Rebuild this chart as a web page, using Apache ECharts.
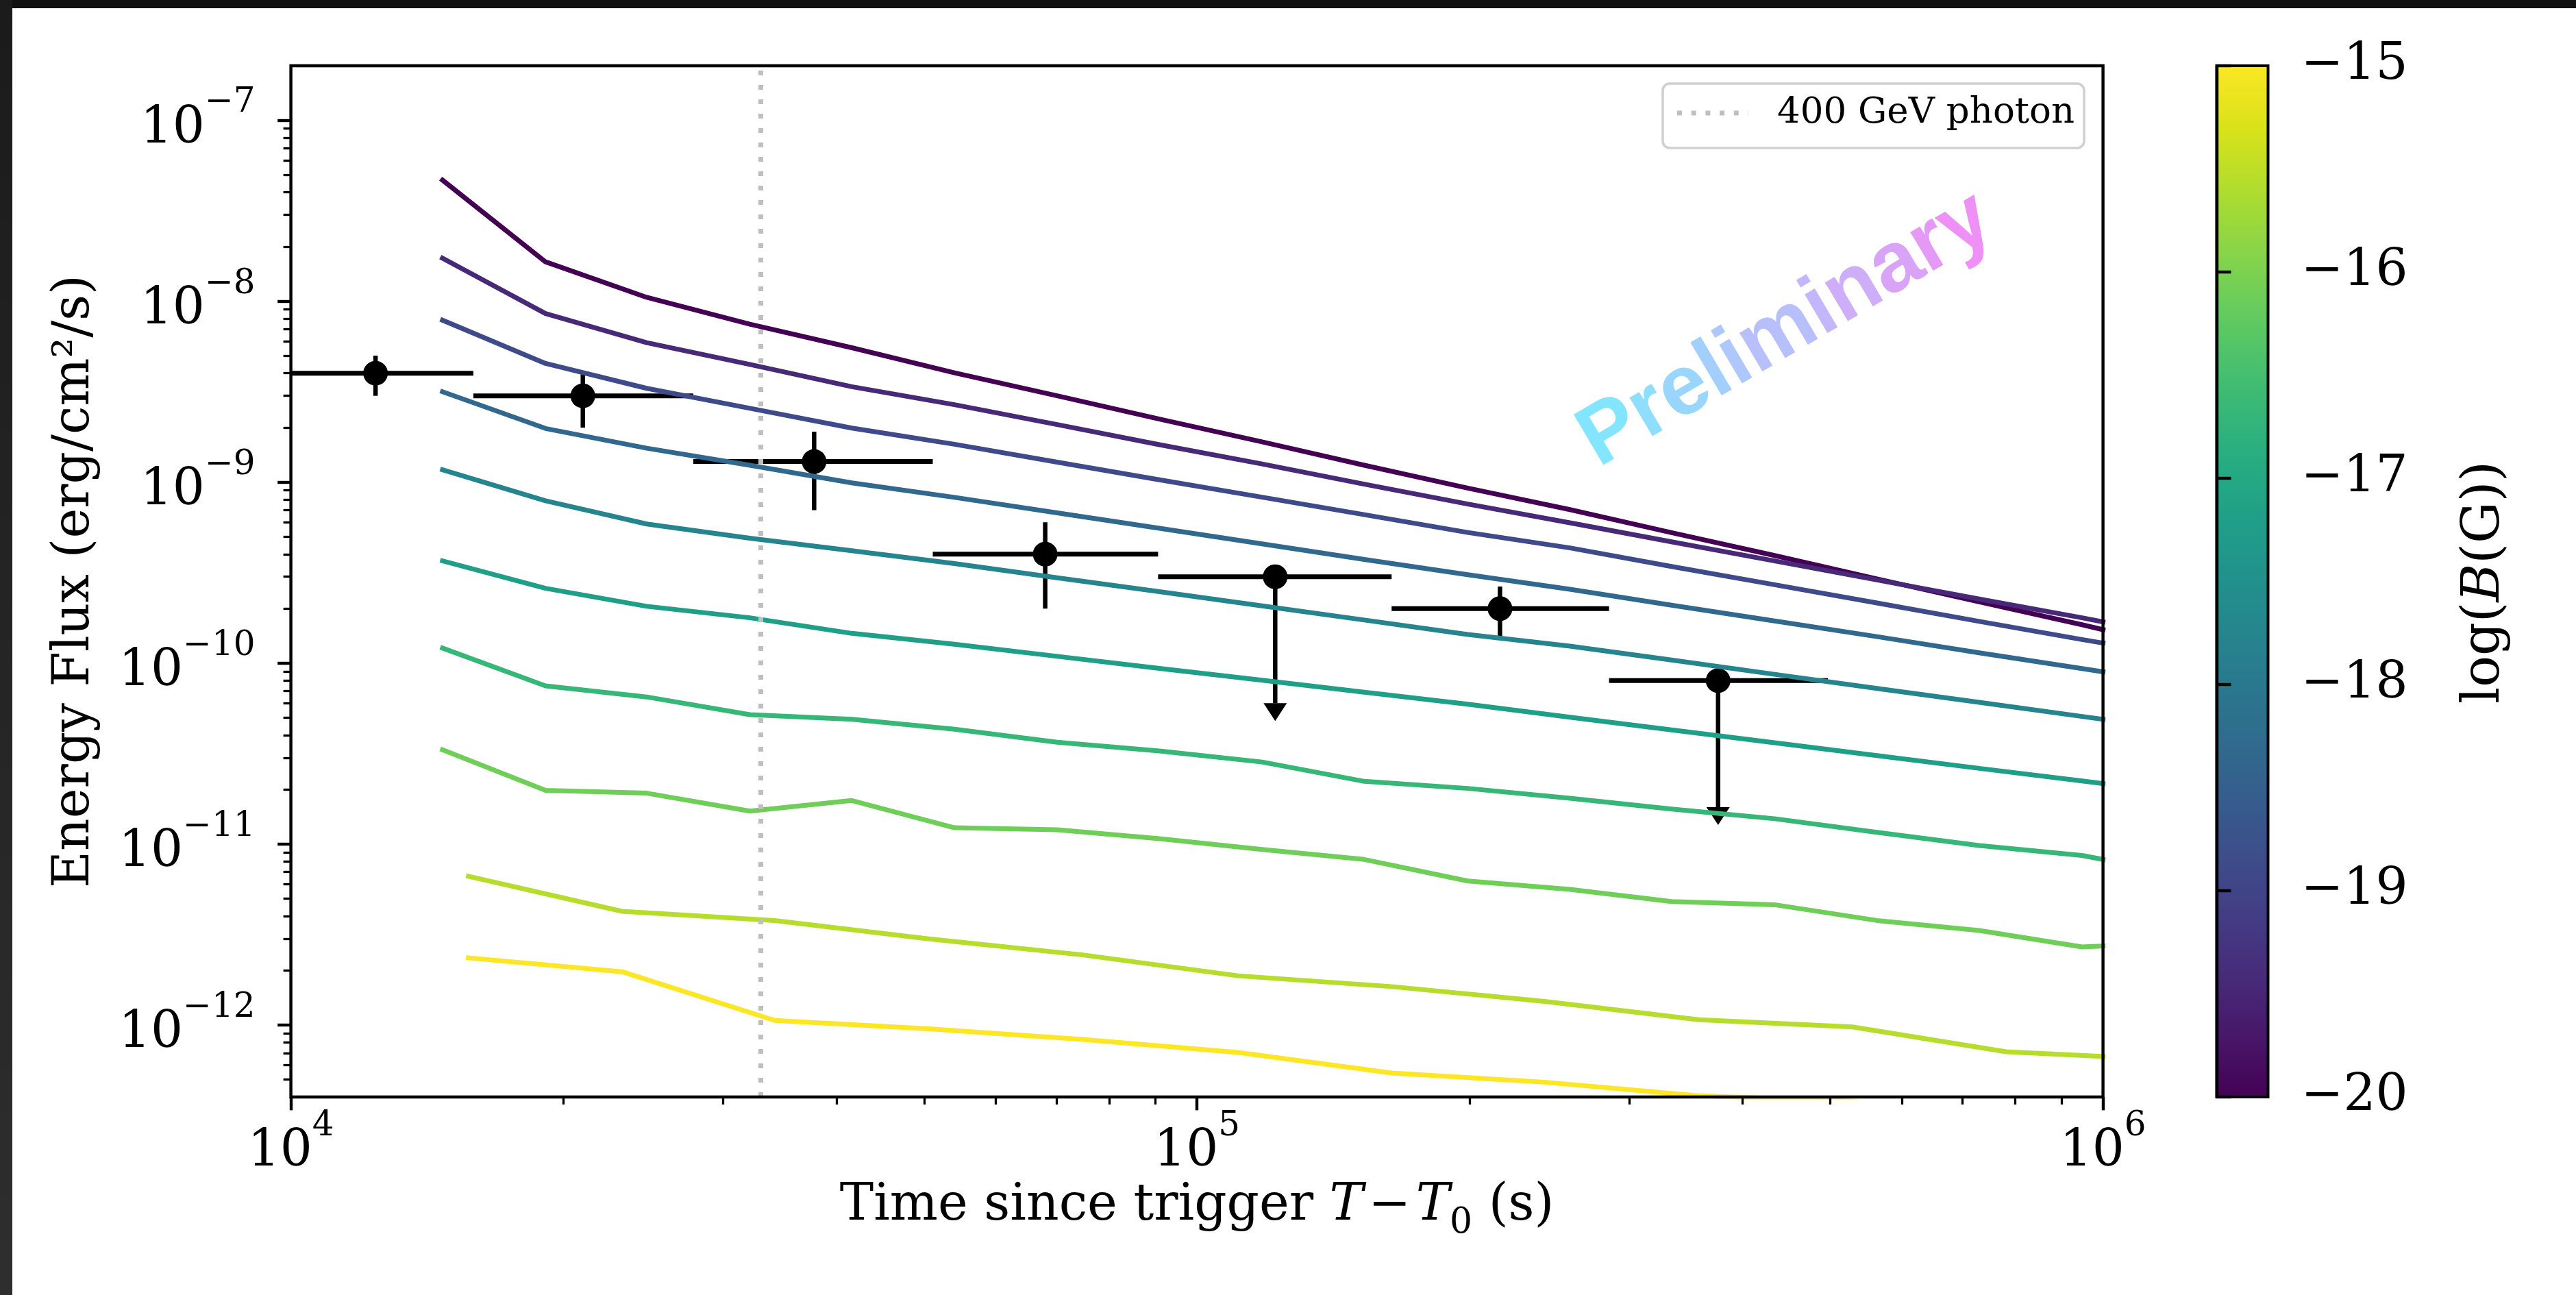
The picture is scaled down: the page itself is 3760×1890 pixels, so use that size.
<!DOCTYPE html>
<html>
<head>
<meta charset="utf-8">
<script src="https://cdn.jsdelivr.net/npm/echarts@6/dist/echarts.min.js"></script>
<style>
  html, body { margin: 0; padding: 0; background: #fff; }
  #chart { position: absolute; left: 0; top: 0; width: 3760px; height: 1890px; }
  .edge-top { position: absolute; left: 0; top: 0; width: 3760px; height: 12px; background: #111; pointer-events: none; }
  .edge-left { position: absolute; left: 0; top: 0; width: 18px; height: 1890px; background: linear-gradient(#1b1b1b, #2e2e2e); pointer-events: none; }
</style>
</head>
<body>
<div id="chart"></div>
<div class="edge-top"></div>
<div class="edge-left"></div>
<script>
// ---------------------------------------------------------------------------
// Cascade light-curve models for a grid of IGMF strengths, log10(B / G)
// ---------------------------------------------------------------------------
const fieldLogB = [-20, -19.44, -18.89, -18.33, -17.78, -17.22, -16.67, -16.11, -15.56, -15];

// time grids (s) of the model curves
const modelTimesA = [1.47e4, 1.91e4, 2.47e4, 3.21e4, 4.16e4, 5.40e4, 7.01e4, 9.09e4, 1.18e5,
                     1.53e5, 1.99e5, 2.58e5, 3.34e5, 4.34e5, 5.63e5, 7.30e5, 9.48e5, 1.0e6];
const modelTimesB = [1.57e4, 2.32e4, 3.42e4, 5.06e4, 7.48e4, 1.11e5, 1.64e5, 2.42e5, 3.58e5,
                     5.29e5, 7.82e5, 1.0e6];

// energy flux (erg/cm^2/s) of each model
const fluxBm2000 = [4.67e-8, 1.65e-8, 1.05e-8, 7.46e-9, 5.53e-9, 4.02e-9, 3.00e-9, 2.23e-9, 1.67e-9,
                    1.24e-9, 9.27e-10, 7.05e-10, 5.26e-10, 3.93e-10, 2.92e-10, 2.18e-10, 1.63e-10, 1.53e-10];
const fluxBm1944 = [1.73e-8, 8.55e-9, 5.90e-9, 4.47e-9, 3.37e-9, 2.68e-9, 2.08e-9, 1.61e-9, 1.26e-9,
                    9.75e-10, 7.57e-10, 5.96e-10, 4.68e-10, 3.67e-10, 2.88e-10, 2.26e-10, 1.78e-10, 1.69e-10];
const fluxBm1889 = [7.85e-9, 4.53e-9, 3.30e-9, 2.56e-9, 1.99e-9, 1.62e-9, 1.29e-9, 1.03e-9, 8.26e-10,
                    6.61e-10, 5.27e-10, 4.33e-10, 3.42e-10, 2.71e-10, 2.15e-10, 1.70e-10, 1.35e-10, 1.29e-10];
const fluxBm1833 = [3.16e-9, 1.98e-9, 1.54e-9, 1.24e-9, 9.91e-10, 8.24e-10, 6.76e-10, 5.56e-10, 4.56e-10,
                    3.74e-10, 3.08e-10, 2.56e-10, 2.09e-10, 1.71e-10, 1.40e-10, 1.14e-10, 9.33e-11, 8.95e-11];
const fluxBm1778 = [1.17e-9, 7.89e-10, 5.87e-10, 4.90e-10, 4.18e-10, 3.55e-10, 2.96e-10, 2.48e-10, 2.07e-10,
                    1.73e-10, 1.44e-10, 1.24e-10, 1.04e-10, 8.67e-11, 7.24e-11, 6.07e-11, 5.07e-11, 4.89e-11];
const fluxBm1722 = [3.67e-10, 2.59e-10, 2.06e-10, 1.78e-10, 1.46e-10, 1.27e-10, 1.09e-10, 9.35e-11, 8.04e-11,
                    6.90e-11, 5.93e-11, 5.02e-11, 4.27e-11, 3.63e-11, 3.08e-11, 2.62e-11, 2.23e-11, 2.16e-11];
const fluxBm1667 = [1.21e-10, 7.48e-11, 6.50e-11, 5.19e-11, 4.89e-11, 4.31e-11, 3.65e-11, 3.27e-11, 2.84e-11,
                    2.22e-11, 2.03e-11, 1.79e-11, 1.56e-11, 1.38e-11, 1.16e-11, 9.82e-12, 8.65e-12, 8.22e-12];
const fluxBm1611 = [3.32e-11, 1.98e-11, 1.91e-11, 1.52e-11, 1.74e-11, 1.23e-11, 1.20e-11, 1.07e-11, 9.33e-12,
                    8.22e-12, 6.25e-12, 5.62e-12, 4.81e-12, 4.62e-12, 3.78e-12, 3.33e-12, 2.70e-12, 2.73e-12];
const fluxBm1556 = [6.64e-12, 4.25e-12, 3.78e-12, 2.99e-12, 2.44e-12, 1.87e-12, 1.63e-12, 1.35e-12, 1.07e-12,
                    9.75e-13, 7.11e-13, 6.70e-13];
const fluxBm1500 = [2.35e-12, 1.97e-12, 1.06e-12, 9.53e-13, 8.32e-13, 7.05e-13, 5.43e-13, 4.83e-13, 4.06e-13,
                    3.80e-13, 2.80e-13, 2.70e-13];

// ---------------------------------------------------------------------------
// Measured energy flux (time bins, fluxes, 1-sigma ranges, upper limits)
// ---------------------------------------------------------------------------
const obsTime       = [1.24e4, 2.10e4, 3.78e4, 6.80e4, 1.22e5, 2.16e5, 3.76e5];
const obsTimeLow    = [1.0e4, 1.59e4, 2.78e4, 5.11e4, 9.06e4, 1.64e5, 2.85e5];
const obsTimeHigh   = [1.59e4, 2.78e4, 5.11e4, 9.06e4, 1.64e5, 2.85e5, 4.97e5];
const obsFlux       = [4.0e-9, 3.0e-9, 1.3e-9, 4.0e-10, 3.0e-10, 2.0e-10, 8.0e-11];
const obsFluxLow    = [3.0e-9, 2.0e-9, 7.0e-10, 2.0e-10, 6.0e-11, 1.4e-10, 1.6e-11];
const obsFluxHigh   = [5.0e-9, 4.0e-9, 1.9e-9, 6.0e-10, 3.0e-10, 2.65e-10, 8.0e-11];
const obsUpperLimit = [false, false, false, false, true, false, true];

// arrival time of the 400 GeV photon (s)
const PHOTON_TIME = 3.3e4;

// axes
const X_MIN = 1e4, X_MAX = 1e6;
const Y_MIN = 4e-13, Y_MAX = 2e-7;
const xMajorTicks = [1e4, 1e5, 1e6];
const yMajorTicks = [1e-12, 1e-11, 1e-10, 1e-9, 1e-8, 1e-7];
const colorbarTicks = [-20, -19, -18, -17, -16, -15];
const B_MIN = -20, B_MAX = -15;

// ---------------------------------------------------------------------------
const modelCurves = [
  { logB: fieldLogB[0], t: modelTimesA, f: fluxBm2000 },
  { logB: fieldLogB[1], t: modelTimesA, f: fluxBm1944 },
  { logB: fieldLogB[2], t: modelTimesA, f: fluxBm1889 },
  { logB: fieldLogB[3], t: modelTimesA, f: fluxBm1833 },
  { logB: fieldLogB[4], t: modelTimesA, f: fluxBm1778 },
  { logB: fieldLogB[5], t: modelTimesA, f: fluxBm1722 },
  { logB: fieldLogB[6], t: modelTimesA, f: fluxBm1667 },
  { logB: fieldLogB[7], t: modelTimesA, f: fluxBm1611 },
  { logB: fieldLogB[8], t: modelTimesB, f: fluxBm1556 },
  { logB: fieldLogB[9], t: modelTimesB, f: fluxBm1500 }
];

// viridis colormap stops
const VIRIDIS = ['#440154', '#48186a', '#472d7b', '#424086', '#3b528b', '#33638d', '#2c728e', '#26828e',
                 '#21918c', '#1fa088', '#28ae80', '#3fbc73', '#5ec962', '#84d44b', '#addc30', '#d8e219', '#fde725'];

function hexRgb(h) {
  return [parseInt(h.slice(1, 3), 16), parseInt(h.slice(3, 5), 16), parseInt(h.slice(5, 7), 16)];
}
function mixColor(a, b, t) {
  const ca = hexRgb(a), cb = hexRgb(b);
  const c = ca.map((v, k) => Math.round(v + (cb[k] - v) * t));
  return 'rgb(' + c.join(',') + ')';
}
function rampColor(stops, f) {
  f = Math.min(Math.max(f, 0), 1);
  const n = stops.length - 1;
  const x = f * n;
  const i = Math.min(Math.floor(x), n - 1);
  return mixColor(stops[i], stops[i + 1], x - i);
}
const viridis = f => rampColor(VIRIDIS, f);

const SERIF = 'DejaVu Serif';
const TICK_FONT = 74;

function powerLabel(v) {
  const e = Math.round(Math.log10(v));
  return '{b|10}{s|' + (e < 0 ? '\u2212' : '') + Math.abs(e) + '}';
}
const powerRich = {
  b: { fontFamily: SERIF, fontSize: TICK_FONT, lineHeight: 100, verticalAlign: 'bottom', color: '#000' },
  s: { fontFamily: SERIF, fontSize: 50, lineHeight: 52, verticalAlign: 'top', color: '#000' }
};

function minorTicks(lo, hi) {
  const out = [];
  for (let e = Math.floor(Math.log10(lo)); e <= Math.ceil(Math.log10(hi)); e++) {
    for (let m = 2; m <= 9; m++) {
      const v = m * Math.pow(10, e);
      if (v > lo && v < hi) out.push(v);
    }
  }
  return out;
}

// ---------------------------------------------------------------------------
const GRID = { left: 424.6, top: 96, width: 2645, height: 1505 };
const CBAR = { left: 3235.5, top: 96, width: 75, height: 1505 };

function renderMeasurement(params, api) {
  const t = api.value(0), f = api.value(1);
  const c = api.coord([t, f]);
  const xl = api.coord([api.value(2), f]);
  const xh = api.coord([api.value(3), f]);
  const yl = api.coord([t, api.value(4)]);
  const yh = api.coord([t, api.value(5)]);
  const children = [
    { type: 'line', shape: { x1: xl[0], y1: c[1], x2: xh[0], y2: c[1] }, style: { stroke: '#000', lineWidth: 7 } },
    { type: 'line', shape: { x1: c[0], y1: yh[1], x2: c[0], y2: yl[1] }, style: { stroke: '#000', lineWidth: 6.5 } },
    { type: 'circle', shape: { cx: c[0], cy: c[1], r: 18 }, style: { fill: '#000' } }
  ];
  if (api.value(6) === 1) {
    children.push({
      type: 'polygon',
      shape: { points: [[c[0] - 17, yl[1]], [c[0] + 17, yl[1]], [c[0], yl[1] + 26]] },
      style: { fill: '#000' }
    });
  }
  return { type: 'group', children };
}

function renderColorbar(params, api) {
  const p0 = api.coord([api.value(0), api.value(1)]);
  const p1 = api.coord([api.value(2), api.value(3)]);
  const stops = VIRIDIS.map((c, i) => ({ offset: i / (VIRIDIS.length - 1), color: c }));
  return {
    type: 'rect',
    shape: { x: p0[0], y: p1[1], width: p1[0] - p0[0], height: p0[1] - p1[1] },
    style: { fill: new echarts.graphic.LinearGradient(0, 1, 0, 0, stops), stroke: '#000', lineWidth: 4 }
  };
}

const measurementData = obsTime.map((t, i) => [t, obsFlux[i], obsTimeLow[i], obsTimeHigh[i],
  obsFluxLow[i], obsFluxHigh[i], obsUpperLimit[i] ? 1 : 0]);

const series = [];
series.push({
  type: 'custom', name: 'data', xAxisIndex: 0, yAxisIndex: 0,
  data: measurementData, encode: { x: 0, y: 1 },
  renderItem: renderMeasurement, z: 2, silent: true
});
modelCurves.forEach(m => {
  series.push({
    type: 'line', xAxisIndex: 0, yAxisIndex: 0,
    data: m.t.map((t, i) => [t, m.f[i]]),
    showSymbol: false, symbol: 'none', clip: true, silent: true, z: 3,
    lineStyle: { color: viridis((m.logB - B_MIN) / (B_MAX - B_MIN)), width: 7, join: 'round', cap: 'square' }
  });
});
series.push({
  type: 'line', name: '400 GeV photon', xAxisIndex: 0, yAxisIndex: 0, data: [], z: 4,
  markLine: {
    silent: true, symbol: ['none', 'none'], label: { show: false }, animation: false,
    lineStyle: { color: '#bfbfbf', width: 7, type: [7, 14], cap: 'butt' },
    data: [{ xAxis: PHOTON_TIME }]
  }
});
series.push({
  type: 'custom', xAxisIndex: 2, yAxisIndex: 2,
  data: [[0, B_MIN, 1, B_MAX]], encode: { x: [0, 2], y: [1, 3] },
  renderItem: renderColorbar, silent: true
});

// watermark letters coloured along a cyan-to-pink ramp
const WATERMARK = 'Preliminary';
const WM_STOPS = ['#7fe9ff', '#b8c0fb', '#f48bf5'];
const wmRich = {};
const wmText = WATERMARK.split('').map((ch, i) => {
  wmRich['w' + i] = {
    fill: rampColor(WM_STOPS, (i + 0.5) / WATERMARK.length),
    fontSize: 124, fontWeight: 'bold', fontFamily: 'Liberation Sans'
  };
  return '{w' + i + '|' + ch + '}';
}).join('');

const option = {
  animation: false,
  backgroundColor: '#fff',
  grid: [
    Object.assign({ show: true, borderColor: '#000', borderWidth: 4.4, backgroundColor: 'transparent', z: 10 }, GRID),
    Object.assign({ show: false }, CBAR)
  ],
  xAxis: [
    {
      type: 'log', gridIndex: 0, min: X_MIN, max: X_MAX, position: 'bottom', z: 10,
      axisLine: { show: false },
      axisTick: { show: true, customValues: xMajorTicks, length: 19.4, lineStyle: { color: '#000', width: 4.4 } },
      axisLabel: { show: true, customValues: xMajorTicks, margin: 18, formatter: powerLabel, rich: powerRich },
      splitLine: { show: false }, minorTick: { show: false },
      name: '{n|Time since trigger }{i|T}{n|\u200a\u2212\u200a}{i|T}{sub|0}{n| (s)}',
      nameLocation: 'middle', nameGap: 122,
      nameTextStyle: {
        rich: {
          n: { fontFamily: SERIF, fontSize: 74, lineHeight: 90, verticalAlign: 'top', color: '#000' },
          i: { fontFamily: SERIF, fontSize: 74, fontStyle: 'italic', lineHeight: 90, verticalAlign: 'top', color: '#000' },
          sub: { fontFamily: SERIF, fontSize: 52, lineHeight: 52, verticalAlign: 'top', padding: [36, 0, 0, 0], color: '#000' }
        }
      }
    },
    {
      type: 'log', gridIndex: 0, min: X_MIN, max: X_MAX, position: 'bottom', z: 10,
      axisLine: { show: false },
      axisTick: { show: true, customValues: minorTicks(X_MIN, X_MAX), length: 11, lineStyle: { color: '#000', width: 3.3 } },
      axisLabel: { show: false }, splitLine: { show: false }
    },
    { type: 'value', gridIndex: 1, min: 0, max: 1, show: false }
  ],
  yAxis: [
    {
      type: 'log', gridIndex: 0, min: Y_MIN, max: Y_MAX, position: 'left', z: 10,
      axisLine: { show: false },
      axisTick: { show: true, customValues: yMajorTicks, length: 19.4, lineStyle: { color: '#000', width: 4.4 } },
      axisLabel: { show: true, customValues: yMajorTicks, margin: 52, formatter: powerLabel, rich: powerRich },
      splitLine: { show: false }, minorTick: { show: false },
      name: 'Energy Flux (erg/cm\u00b2/s)', nameLocation: 'middle', nameRotate: 90, nameGap: 270,
      nameTextStyle: { fontFamily: SERIF, fontSize: 74, lineHeight: 90, color: '#000' }
    },
    {
      type: 'log', gridIndex: 0, min: Y_MIN, max: Y_MAX, position: 'left', offset: 0, z: 10,
      axisLine: { show: false },
      axisTick: { show: true, customValues: minorTicks(Y_MIN, Y_MAX), length: 11, lineStyle: { color: '#000', width: 3.3 } },
      axisLabel: { show: false }, splitLine: { show: false }
    },
    {
      type: 'value', gridIndex: 1, min: B_MIN, max: B_MAX, interval: 1, position: 'right', z: 10,
      axisLine: { show: true, lineStyle: { color: '#000', width: 4.4 } },
      axisTick: { show: true, length: 21, lineStyle: { color: '#000', width: 4.4 } },
      axisLabel: {
        margin: 48, fontFamily: SERIF, fontSize: TICK_FONT, color: '#000',
        customValues: colorbarTicks,
        formatter: v => String(v).replace('-', '\u2212')
      },
      splitLine: { show: false }
    }
  ],
  graphic: [
    // legend
    {
      type: 'rect', z: 20,
      shape: { x: 2427, y: 122, width: 615, height: 94, r: 10 },
      style: { fill: 'rgba(255,255,255,0.8)', stroke: '#d0d0d0', lineWidth: 3.5 }
    },
    {
      type: 'line', z: 21,
      shape: { x1: 2448, y1: 165, x2: 2552, y2: 165 },
      style: { stroke: '#bfbfbf', lineWidth: 7, lineDash: [7, 13.7] }
    },
    {
      type: 'text', z: 21, x: 2594, y: 165,
      style: { text: '400 GeV photon', fontFamily: SERIF, fontSize: 53, fill: '#000', align: 'left', verticalAlign: 'middle' }
    },
    // colorbar label
    {
      type: 'text', z: 21, x: 3627, y: 850, rotation: Math.PI / 2,
      style: {
        text: '{r|log(}{i|B}{r|(G))}', align: 'center', verticalAlign: 'middle',
        rich: {
          r: { fontFamily: SERIF, fontSize: 76, fill: '#000' },
          i: { fontFamily: SERIF, fontSize: 76, fontStyle: 'italic', fill: '#000' }
        }
      }
    },
    // watermark
    {
      type: 'text', z: 30, x: 2607, y: 482, rotation: 30.5 * Math.PI / 180,
      style: { text: wmText, rich: wmRich, align: 'center', verticalAlign: 'middle' }
    }
  ],
  series
};

const chart = echarts.init(document.getElementById('chart'), null, { renderer: 'canvas', width: 3760, height: 1890 });
chart.setOption(option);
</script>
</body>
</html>
